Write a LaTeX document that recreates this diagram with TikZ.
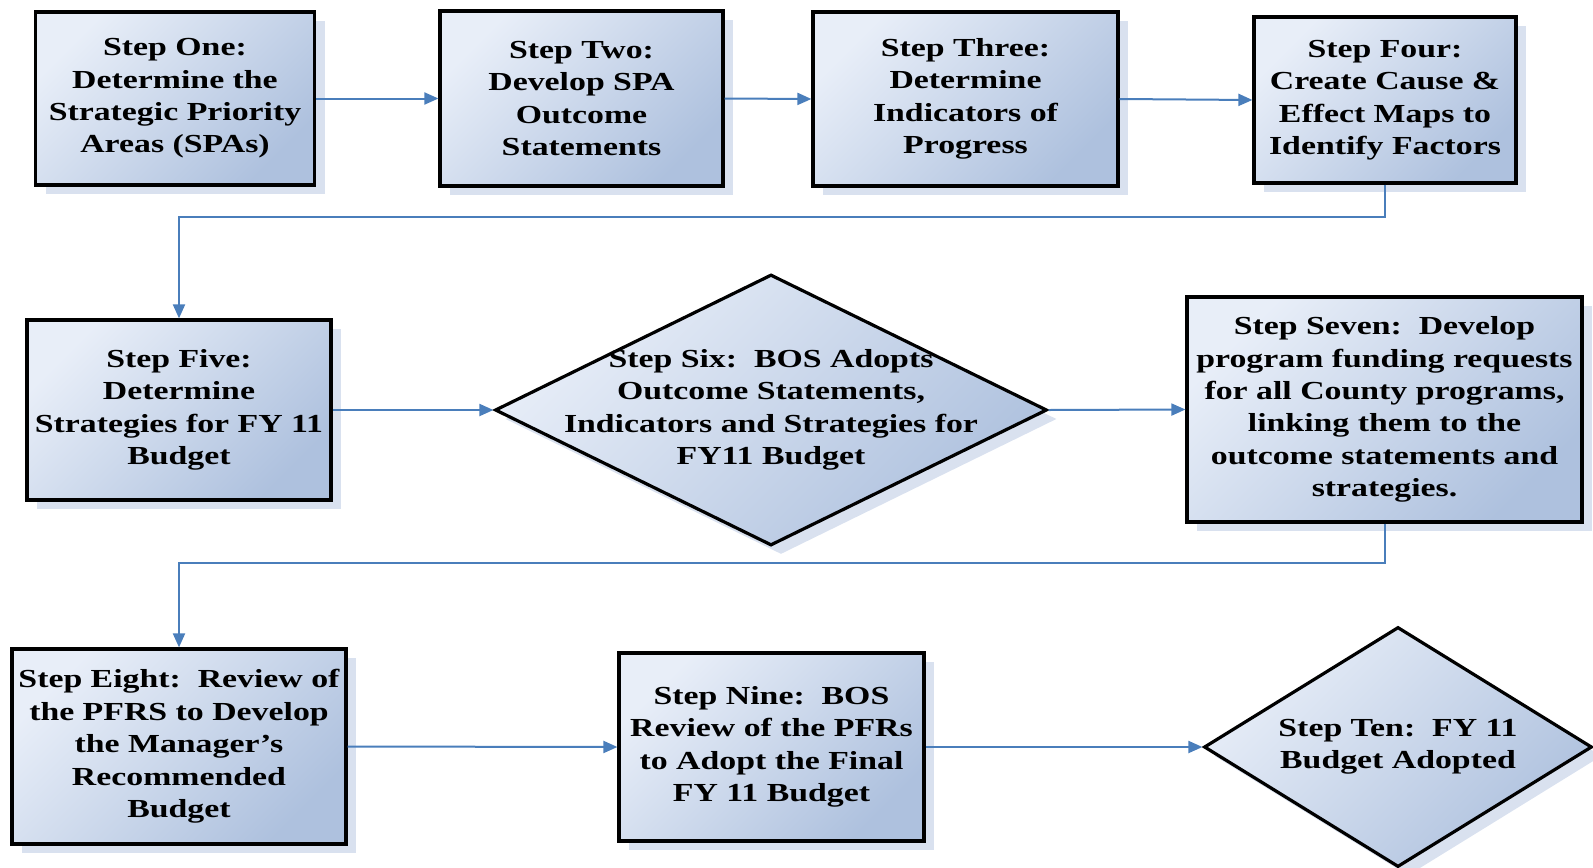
\documentclass[tikz,border=0pt]{standalone}
\usepackage{fontspec}
\setmainfont{Liberation Serif}[FakeStretch=1.3]
\usetikzlibrary{shapes.geometric,shadows,arrows.meta}
\definecolor{boxlight}{HTML}{E8EEF8}
\definecolor{boxdark}{HTML}{AEC1DE}
\definecolor{shadowblue}{HTML}{D9E1EF}
\definecolor{flowblue}{HTML}{4A7EBB}
\tikzset{
  stepbox/.style={draw=black, line width=1.6pt, top color=boxlight, bottom color=boxdark,
    shading angle=45, general shadow={shadow xshift=5pt, shadow yshift=-4.5pt, fill=shadowblue},
    inner sep=0pt, align=center},
  decision/.style={diamond, draw=black, line width=1.6pt, top color=boxlight, bottom color=boxdark,
    shading angle=45, general shadow={shadow xshift=5pt, shadow yshift=-4.5pt, fill=shadowblue},
    inner sep=0pt},
  steptext/.style={align=center, inner sep=0pt, font=\bfseries\fontsize{13}{16.2}\selectfont},
  flow/.style={draw=flowblue, line width=1pt, -{Triangle[length=7pt,width=6pt]}},
}
\begin{document}
\begin{tikzpicture}[x=0.5pt, y=-0.5pt]
\useasboundingbox (0,0) rectangle (1593,867);

% first row
\node[stepbox, steptext, minimum width=139.5pt, minimum height=86.5pt] (s1) at (175,98.5)
  {Step One:\\Determine the\\Strategic Priority\\Areas (SPAs)};
\node[stepbox, steptext, minimum width=141.5pt, minimum height=87.5pt] (s2) at (581.5,98.5)
  {Step Two:\\Develop SPA\\Outcome\\Statements};
\node[stepbox, steptext, minimum width=152.5pt, minimum height=87pt] (s3) at (965.5,99)
  {Step Three:\\Determine\\Indicators of\\Progress};
\node[stepbox, steptext, minimum width=131pt, minimum height=83pt] (s4) at (1385,100)
  {Step Four:\\Create Cause \&\\Effect Maps to\\Identify Factors};

% second row
\node[stepbox, steptext, minimum width=152pt, minimum height=90pt] (s5) at (179,410)
  {Step Five:\\Determine\\Strategies for FY 11\\Budget};
\node[decision, minimum width=276pt, minimum height=135.5pt] (s6) at (771,410) {};
\node[steptext] (s6text) at (s6.center)
  {Step Six:\ \ BOS Adopts\\Outcome Statements,\\Indicators and Strategies for\\FY11 Budget};
\node[stepbox, steptext, minimum width=197.5pt, minimum height=112.5pt] (s7) at (1384.5,409.5)
  {Step Seven:\ \ Develop\\program funding requests\\for all County programs,\\linking them to the\\outcome statements and\\strategies.};

% third row
\node[stepbox, steptext, minimum width=167pt, minimum height=97.5pt] (s8) at (179,746.5)
  {Step Eight:\ \ Review of\\the PFRS to Develop\\the Manager’s\\Recommended\\Budget};
\node[stepbox, steptext, minimum width=152.5pt, minimum height=94pt] (s9) at (771.5,747)
  {Step Nine:\ \ BOS\\Review of the PFRs\\to Adopt the Final\\FY 11 Budget};
\node[decision, minimum width=194pt, minimum height=120pt] (s10) at (1398,747) {};
\node[steptext] (s10text) at (s10.center) {Step Ten:\ \ FY 11\\Budget Adopted};

% connectors
\draw[flow] (s1.east) -- (s2.west);
\draw[flow] (s2.east) -- (s3.west);
\draw[flow] (s3.east) -- (s4.west);
\draw[flow] (s4.south) -- ++(0,32) -| (s5.north);
\draw[flow] (s5.east) -- (s6.west);
\draw[flow] (s6.east) -- (s7.west);
\draw[flow] (s7.south) -- ++(0,39) -| (s8.north);
\draw[flow] (s8.east) -- (s9.west);
\draw[flow] (s9.east) -- (s10.west);
\end{tikzpicture}
\end{document}
